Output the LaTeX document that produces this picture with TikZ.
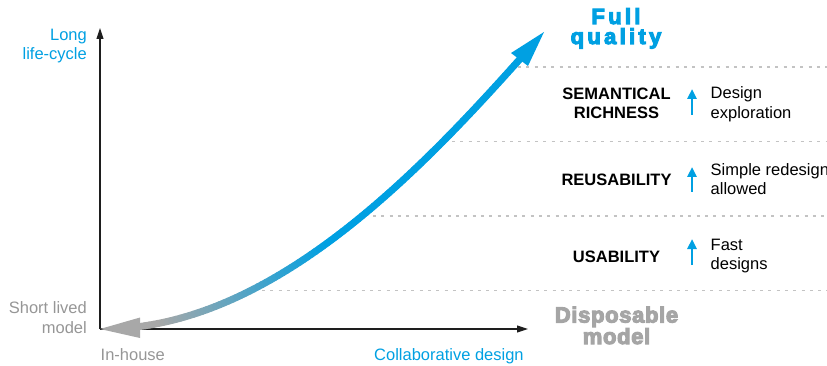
\documentclass[tikz,border=0pt]{standalone}
\usepackage{fontspec}
\setmainfont{Liberation Sans}
\newfontfamily\heavyfont[FakeBold=5,LetterSpace=3]{Liberation Sans Bold}
\newfontfamily\heavyspaced[FakeBold=5,LetterSpace=15]{Liberation Sans Bold}
\usetikzlibrary{arrows.meta}
\definecolor{cblue}{RGB}{0,160,226}
\definecolor{cgray}{RGB}{168,168,168}
\definecolor{tgray}{RGB}{150,150,150}
\definecolor{dgray}{RGB}{165,165,165}
\definecolor{dotc}{RGB}{195,195,195}
\definecolor{axisc}{RGB}{30,30,30}
\begin{document}
\begin{tikzpicture}[x=1pt,y=-1pt,
  txt/.style={inner sep=0pt,font=\fontsize{16.5}{19.5}\selectfont},
  capt/.style={inner sep=0pt,font=\fontsize{16.5}{19.5}\selectfont\bfseries,text=black,align=center,anchor=base},
  note/.style={txt,text=black,align=left,anchor=base west},
  axisline/.style={draw=axisc,line width=1.1pt,-{Triangle[length=11pt,width=7pt]}},
  levelline/.style={draw=dotc,line width=1.4pt,dash pattern=on 3pt off 5.3pt},
  uparrow/.style={draw=cblue,line width=2.6pt,-{Triangle[length=10pt,width=9pt]}},
  ]
\useasboundingbox (0,0) rectangle (827,366);

% level separators
\coordinate (l1s) at (518,67);   \coordinate (l1e) at (827,67);
\coordinate (l2s) at (452,141.5);\coordinate (l2e) at (827,141.5);
\coordinate (l3s) at (373,216);  \coordinate (l3e) at (827,216);
\coordinate (l4s) at (262,290.7);\coordinate (l4e) at (827,290.7);
\draw[levelline] (l1s) -- (l1e);
\draw[levelline] (l2s) -- (l2e);
\draw[levelline] (l3s) -- (l3e);
\draw[levelline] (l4s) -- (l4e);

% axes
\coordinate (origin) at (100,329);
\coordinate (ytip) at (100,28);
\coordinate (xtip) at (528,329);
\draw[axisline] (origin) -- (ytip);
\draw[axisline] (origin) -- (xtip);

% gradient curve
\foreach \i in {0,...,99}{
  \pgfmathsetmacro\ta{\i/100}
  \pgfmathsetmacro\tb{(\i+1)/100}
  \pgfmathsetmacro\sa{1-\ta}
  \pgfmathsetmacro\sb{1-\tb}
  \pgfmathsetmacro\xa{\sa*\sa*\sa*136+3*\sa*\sa*\ta*286+3*\sa*\ta*\ta*420+\ta*\ta*\ta*520}
  \pgfmathsetmacro\ya{\sa*\sa*\sa*327+3*\sa*\sa*\ta*309+3*\sa*\ta*\ta*171+\ta*\ta*\ta*59}
  \pgfmathsetmacro\xb{\sb*\sb*\sb*136+3*\sb*\sb*\tb*286+3*\sb*\tb*\tb*420+\tb*\tb*\tb*520}
  \pgfmathsetmacro\yb{\sb*\sb*\sb*327+3*\sb*\sb*\tb*309+3*\sb*\tb*\tb*171+\tb*\tb*\tb*59}
  \pgfmathsetmacro\pp{max(0,min(100,(\ta-0.05)*250))}
  \draw[line width=7pt,line cap=round,color=cblue!\pp!cgray] (\xa,\ya) -- (\xb,\yb);
}
\coordinate (gtip) at (100,329);
\coordinate (btip) at (544,32);
\fill[cgray] (gtip) -- (140,317.5) -- (140,338) -- cycle;
\fill[cblue] (btip) -- (511,53) -- (528,66) -- cycle;

% axis labels
\node[txt,text=cblue,align=right,anchor=base east] (long) at (87,60) {Long\\life-cycle};
\node[txt,text=tgray,align=right,anchor=base east] (short) at (87,333) {Short lived\\model};
\node[txt,text=tgray,anchor=base west] (inhouse) at (100.5,360) {In-house};
\node[txt,text=cblue,anchor=base west] (collab) at (374,360) {Collaborative design};

% big labels
\node[inner sep=0pt,font=\heavyspaced\fontsize{22}{20}\selectfont,text=cblue,align=center,anchor=base] (full) at (616,44) {Full\\quality};
\node[inner sep=0pt,font=\heavyfont\fontsize{22}{18}\selectfont,text=dgray,align=center,anchor=base] (disp) at (616.5,344) {Disposable\\model};

% levels
\node[capt] (sem) at (616.5,119) {SEMANTICAL\\RICHNESS};
\node[capt] (reus) at (616.5,186) {REUSABILITY};
\node[capt] (usab) at (616.5,262) {USABILITY};

\coordinate (u1s) at (692,115); \coordinate (u1e) at (692,89);
\coordinate (u2s) at (692,192); \coordinate (u2e) at (692,167);
\coordinate (u3s) at (692,265); \coordinate (u3e) at (692,239);
\draw[uparrow] (u1s) -- (u1e);
\draw[uparrow] (u2s) -- (u2e);
\draw[uparrow] (u3s) -- (u3e);

\node[note] (design) at (710.5,118.5) {Design\\exploration};
\node[note] (simple) at (710.5,195) {Simple redesign\\allowed};
\node[note] (fast) at (710.5,269.5) {Fast\\designs};
\end{tikzpicture}
\end{document}
